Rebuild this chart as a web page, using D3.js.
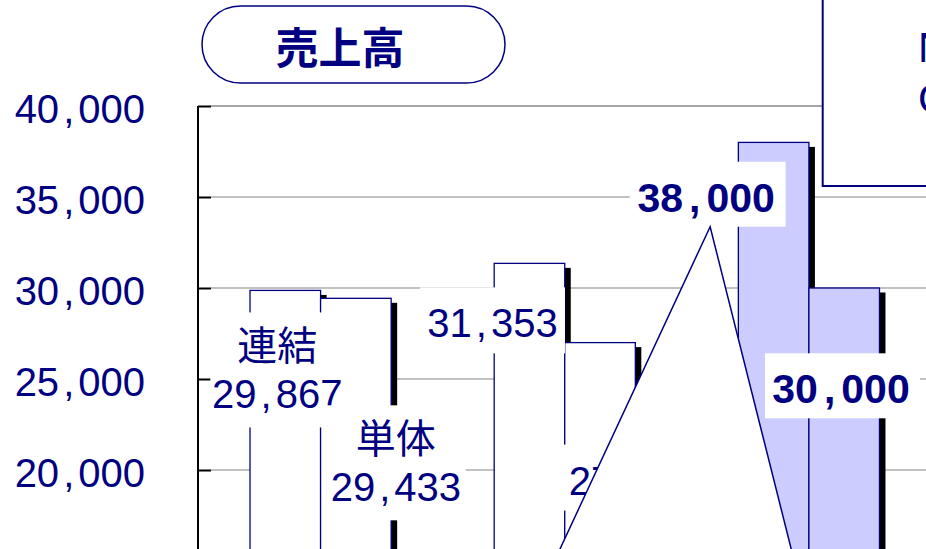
<!DOCTYPE html>
<html><head><meta charset="utf-8">
<script src="https://cdn.jsdelivr.net/npm/d3@7"></script>
<style>body{margin:0;background:#fff}svg{display:block}</style>
</head><body>
<script>
// ---- data ----
const categories = ["前期実績", "当期実績", "次期予想"];
const seriesNames = ["連結", "単体"];
const consolidatedValues = [29867, 31353, 38000];
const standaloneValues = [29433, 27000, 30000];
const yTickValues = [15000, 20000, 25000, 30000, 35000, 40000];
const titleText = "売上高";
const noteLines = ["New", "Case"];

// ---- styles / layout ----
const NAVY = "#000080", LAV = "#CCCCFF";
const W = 926, H = 549;
const forecastCategory = categories[2];
// label placement relative to bar centre / bar top (manually placed labels in the original)
const labelLayout = [
  [{dx: -8, dy: 22, w: 134, h: 115, named: true}, {dx: 40, dy: 107, w: 140, h: 115, named: true}],
  [{dx: -37, dy: 24, w: 145, h: 66}, {dx: 34, dy: 102, w: 145, h: 66}],
  [{dx: -66, dy: 19.3, w: 156, h: 65, bold: true}, {dx: -1.7, dy: 65.3, w: 155, h: 65, bold: true}]
];

const svg = d3.select("body").append("svg").attr("width", W).attr("height", H)
  .style("font-family", "'Liberation Sans', Arial, sans-serif");

const y = d3.scaleLinear().domain([0, 40000]).range([834, 106]);
const x0 = d3.scaleBand().domain(categories).range([198.5, 931]).paddingInner(0.422).paddingOuter(0.211);
const x1 = d3.scaleBand().domain(seriesNames).range([0, x0.bandwidth()]);

const data = categories.flatMap((c, i) => [
  {cat: c, ci: i, series: seriesNames[0], si: 0, value: consolidatedValues[i]},
  {cat: c, ci: i, series: seriesNames[1], si: 1, value: standaloneValues[i]}
]);
const bx = d => x0(d.cat) + x1(d.series);

function numText(sel, value, pad) {
  const parts = d3.format(",")(value).split(",");
  sel.text(null);
  parts.forEach((p, i) => {
    if (i > 0) {
      sel.append("tspan").attr("dx", pad).text(",");
      sel.append("tspan").attr("dx", pad).text(p);
    } else sel.append("tspan").text(p);
  });
}

// gridlines
svg.append("g").selectAll("line").data(yTickValues).join("line")
  .attr("x1", 211).attr("x2", W)
  .attr("y1", d => y(d)).attr("y2", d => y(d))
  .attr("stroke", d => d === 40000 ? "#888" : "#adadad")
  .attr("stroke-width", 1.5);

// shadows
svg.append("g").selectAll("rect").data(data).join("rect")
  .attr("x", d => bx(d) + 6).attr("y", d => y(d.value) + 4.5)
  .attr("width", x1.bandwidth()).attr("height", d => y(0) - y(d.value))
  .attr("fill", "#000");

// bars
svg.append("g").selectAll("rect").data(data).join("rect")
  .attr("x", d => bx(d)).attr("y", d => y(d.value))
  .attr("width", x1.bandwidth()).attr("height", d => y(0) - y(d.value))
  .attr("fill", d => d.cat === forecastCategory ? LAV : "#fff")
  .attr("stroke", NAVY).attr("stroke-width", 1.3);

// y axis
const axis = svg.append("g").attr("transform", "translate(198,0)")
  .call(d3.axisLeft(y).tickValues(yTickValues).tickSize(-13).tickSizeOuter(0).tickPadding(53));
axis.select(".domain").attr("d", `M0,${y(0)}V${y(40000)}`).attr("stroke", "#000").attr("stroke-width", 2);
axis.selectAll(".tick line").attr("stroke", "#000").attr("stroke-width", 2);
axis.selectAll(".tick text")
  .attr("font-family", "'Liberation Sans', Arial, sans-serif")
  .attr("font-size", 40).attr("fill", NAVY).attr("dy", "0.41em")
  .each(function(d) { numText(d3.select(this), d, 4); });
axis.attr("font-size", null).attr("font-family", null);

// labels
const lg = svg.append("g");
data.forEach(d => {
  const L = labelLayout[d.ci][d.si];
  const cx = bx(d) + x1.bandwidth() / 2 + L.dx;
  const top = y(d.value) + L.dy;
  lg.append("rect").attr("x", cx - L.w / 2).attr("y", top).attr("width", L.w).attr("height", L.h).attr("fill", "#fff");
  if (L.named) {
    lg.append("text").attr("x", cx).attr("y", top + 48).attr("text-anchor", "middle")
      .attr("font-family", "'Noto Sans CJK JP', sans-serif").attr("font-size", 40).attr("fill", NAVY)
      .text(d.series);
    numText(lg.append("text").attr("x", cx).attr("y", top + 96).attr("text-anchor", "middle")
      .attr("font-size", 40).attr("fill", NAVY), d.value, 4);
  } else {
    const t = lg.append("text").attr("x", cx - (L.bold ? 1.5 : 0)).attr("y", top + 50).attr("text-anchor", "middle")
      .attr("font-size", L.bold ? 41 : 40).attr("font-weight", L.bold ? "bold" : "normal").attr("fill", NAVY);
    numText(t, d.value, L.bold ? 6 : 4);
  }
});

// callout triangle under the forecast label
const fd = data.find(d => d.ci === 2 && d.si === 0);
const fL = labelLayout[2][0];
const ax = bx(fd) + x1.bandwidth() / 2 + fL.dx + 2.5, ay = y(fd.value) + fL.dy + fL.h;
svg.append("path")
  .attr("d", `M${ax},${ay} L${ax - 150 * 1.6},${ay + 322 * 1.6} L${ax + 81 * 1.6},${ay + 322 * 1.6} Z`)
  .attr("fill", "#fff").attr("stroke", NAVY).attr("stroke-width", 1.5);

// note box top right
svg.append("rect").attr("x", 822.7).attr("y", -5).attr("width", 200).attr("height", 191)
  .attr("fill", "#fff").attr("stroke", NAVY).attr("stroke-width", 2);
svg.append("g").selectAll("text").data(noteLines).join("text")
  .attr("x", 918).attr("y", (d, i) => 61.7 + i * 51)
  .attr("font-size", 42).attr("fill", NAVY).text(d => d);

// title pill
svg.append("rect").attr("x", 202).attr("y", 6).attr("width", 303).attr("height", 77).attr("rx", 38.5)
  .attr("fill", "#fff").attr("stroke", NAVY).attr("stroke-width", 1.5);
svg.append("text").attr("x", 340).attr("y", 64).attr("text-anchor", "middle")
  .attr("font-family", "'Noto Sans CJK JP', sans-serif").attr("font-weight", "bold")
  .attr("font-size", 43).attr("fill", NAVY).text(titleText);
</script>
</body></html>
